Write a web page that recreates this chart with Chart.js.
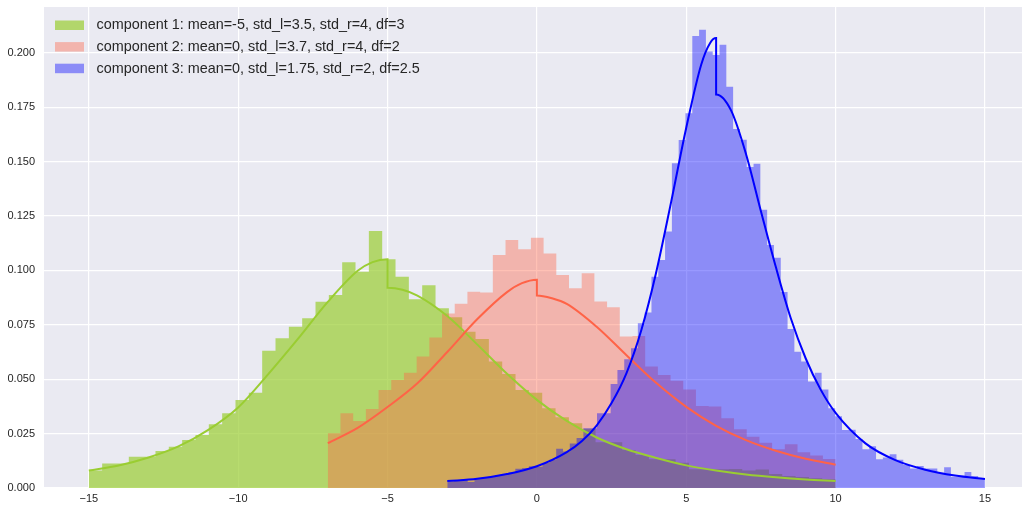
<!DOCTYPE html>
<html>
<head>
<meta charset="utf-8">
<script src="https://cdn.jsdelivr.net/npm/chart.js@4.4.1/dist/chart.umd.min.js"></script>
<style>
  html, body { margin: 0; padding: 0; background: #ffffff; overflow: hidden; }
  canvas { display: block; }
</style>
</head>
<body>
<canvas id="chart" width="1022" height="506"></canvas>
<script>
// ---- data -------------------------------------------------------------
const legendLabels = [
  'component 1: mean=-5, std_l=3.5, std_r=4, df=3',
  'component 2: mean=0, std_l=3.7, std_r=4, df=2',
  'component 3: mean=0, std_l=1.75, std_r=2, df=2.5'
];

// histogram ranges [first edge, last edge] and bin densities
const comp1Range = [-15, 10];
const comp1Density = [
  0.0080, 0.0113, 0.0113, 0.0144, 0.0144, 0.0170, 0.0190, 0.0221, 0.0244, 0.0293,
  0.0343, 0.0404, 0.0438, 0.0631, 0.0688, 0.0741, 0.0780, 0.0856, 0.0887, 0.1037,
  0.0994, 0.1181, 0.1051, 0.0971, 0.0867, 0.0931, 0.0826, 0.0785, 0.0718, 0.0685,
  0.0581, 0.0524, 0.0450, 0.0438, 0.0366, 0.0325, 0.0297, 0.0272, 0.0210, 0.0210,
  0.0175, 0.0152, 0.0132, 0.0132, 0.0116, 0.0086, 0.0086, 0.0086, 0.0087, 0.0080,
  0.0085, 0.0064, 0.0055, 0.0050, 0.0045, 0.0040
];

const comp2Range = [-7, 10];
const comp2Density = [
  0.0251, 0.0343, 0.0308, 0.0363, 0.0450, 0.0496, 0.0530, 0.0604, 0.0692, 0.0802,
  0.0846, 0.0902, 0.0898, 0.1071, 0.1140, 0.1097, 0.1150, 0.1078, 0.0979, 0.0918,
  0.0987, 0.0857, 0.0831, 0.0696, 0.0698, 0.0558, 0.0519, 0.0493, 0.0453, 0.0377,
  0.0374, 0.0320, 0.0270, 0.0236, 0.0208, 0.0178, 0.0201, 0.0164, 0.0149, 0.0133
];

const comp3Range = [-3, 15];
const comp3Density = [
  0.0030, 0.0035, 0.0038, 0.0028, 0.0045, 0.0048, 0.0052, 0.0058, 0.0064, 0.0072,
  0.0088, 0.0092, 0.0100, 0.0098, 0.0115, 0.0130, 0.0180, 0.0168, 0.0205, 0.0230,
  0.0274, 0.0274, 0.0343, 0.0343, 0.0478, 0.0542, 0.0591, 0.0642, 0.0757, 0.0806,
  0.0971, 0.1048, 0.1178, 0.1492, 0.1599, 0.1722, 0.2077, 0.2105, 0.2005, 0.1990,
  0.2036, 0.1844, 0.1650, 0.1600, 0.1475, 0.1490, 0.1278, 0.1117, 0.1058, 0.0900,
  0.0730, 0.0626, 0.0581, 0.0489, 0.0530, 0.0452, 0.0366, 0.0330, 0.0267, 0.0268,
  0.0225, 0.0178, 0.0192, 0.0132, 0.0140, 0.0155, 0.0130, 0.0106, 0.0090, 0.0101,
  0.0090, 0.0090, 0.0070, 0.0095, 0.0052, 0.0052, 0.0074, 0.0055, 0.0044
];

// density curves (the repeated x is the jump at the mode)
const comp1CurveX = [-15, -14, -13, -12, -11, -10, -9, -8, -7, -6, -5.5, -5, -5, -4.5, -4, -3, -2, -1, 0, 1, 2, 3, 4, 5, 6, 7, 8, 9, 10];
const comp1CurveY = [0.0080, 0.0103, 0.0140, 0.0191, 0.0267, 0.0370, 0.0522, 0.0685, 0.0855, 0.0998, 0.1038, 0.1051, 0.0920, 0.0911, 0.0884, 0.0790, 0.0660, 0.0525, 0.0405, 0.0308, 0.0232, 0.0178, 0.0138, 0.0104, 0.0080, 0.0062, 0.0049, 0.0039, 0.0032];

const comp2CurveX = [-7, -6, -5, -4, -3, -2, -1, -0.5, 0, 0, 0.5, 1, 2, 3, 4, 5, 6, 7, 8, 9, 10];
const comp2CurveY = [0.0206, 0.0276, 0.0372, 0.0481, 0.0625, 0.0775, 0.0900, 0.0941, 0.0957, 0.0885, 0.0872, 0.0846, 0.0741, 0.0610, 0.0482, 0.0373, 0.0286, 0.0220, 0.0171, 0.0134, 0.0107];

const comp3CurveX = [-3, -2, -1, 0, 1, 1.5, 2, 2.5, 3, 3.5, 4, 4.5, 5, 5.5, 5.8, 6, 6, 6.5, 7, 7.5, 8, 8.5, 9, 9.5, 10, 11, 12, 13, 14, 15];
const comp3CurveY = [0.0032, 0.0042, 0.0064, 0.0100, 0.0165, 0.0215, 0.0287, 0.0390, 0.0528, 0.0727, 0.0995, 0.1318, 0.1655, 0.1945, 0.2045, 0.2067, 0.1808, 0.1735, 0.1535, 0.1272, 0.1015, 0.0780, 0.0595, 0.0452, 0.0345, 0.0205, 0.0128, 0.0084, 0.0057, 0.0041];

const xTicks = [-15, -10, -5, 0, 5, 10, 15];
const xTickLabels = ['\u221215', '\u221210', '\u22125', '0', '5', '10', '15'];
const yTicks = [0, 0.025, 0.05, 0.075, 0.1, 0.125, 0.15, 0.175, 0.2];
const yTickLabels = ['0.000', '0.025', '0.050', '0.075', '0.100', '0.125', '0.150', '0.175', '0.200'];

// ---- styling ----------------------------------------------------------
const FONT = '"Liberation Sans", Arial, "DejaVu Sans", sans-serif';
const INK = '#262626';
const fills = ['rgba(154,205,50,0.7)', 'rgba(255,99,71,0.4)', 'rgba(0,0,255,0.4)'];
const strokes = ['#9acd32', '#ff6347', '#0000ff'];

// outline of a filled step histogram: each bin holds its height until the next edge
function stepOutline(range, dens) {
  const lo = range[0], hi = range[1];
  const w = (hi - lo) / dens.length;
  const pts = [{ x: lo, y: 0 }];
  dens.forEach((d, i) => pts.push({ x: lo + i * w, y: d }));
  pts.push({ x: hi, y: dens[dens.length - 1] });
  pts.push({ x: hi, y: 0 });
  return pts;
}
function curve(xs, ys) {
  return xs.map((x, i) => ({ x: x, y: ys[i] }));
}

function histSet(range, dens, i) {
  return {
    data: stepOutline(range, dens),
    stepped: 'before',
    fill: 'origin',
    backgroundColor: fills[i],
    borderWidth: 0,
    borderColor: 'rgba(0,0,0,0)',
    pointRadius: 0,
    order: 10 - i
  };
}
function curveSet(xs, ys, i) {
  return {
    data: curve(xs, ys),
    fill: false,
    borderColor: strokes[i],
    borderWidth: 2,
    cubicInterpolationMode: 'monotone',
    pointRadius: 0,
    order: 3 - i
  };
}

const plotBackground = {
  id: 'plotBackground',
  beforeDraw(chart) {
    const a = chart.chartArea, c = chart.ctx;
    c.save();
    c.fillStyle = '#eaeaf2';
    c.fillRect(a.left, a.top, a.right - a.left, a.bottom - a.top);
    c.restore();
  }
};

const cornerLegend = {
  id: 'cornerLegend',
  afterDraw(chart) {
    const a = chart.chartArea, c = chart.ctx;
    c.save();
    c.font = '14.4px ' + FONT;
    c.textBaseline = 'middle';
    c.textAlign = 'left';
    legendLabels.forEach((label, i) => {
      const cy = a.top + 18 + i * 21.6;
      c.fillStyle = fills[i];
      c.fillRect(a.left + 11, cy - 4.5, 29, 9.5);
      c.fillStyle = INK;
      c.fillText(label, a.left + 52.5, cy + 0.5);
    });
    c.restore();
  }
};

new Chart(document.getElementById('chart'), {
  type: 'line',
  data: {
    datasets: [
      histSet(comp1Range, comp1Density, 0),
      histSet(comp2Range, comp2Density, 1),
      histSet(comp3Range, comp3Density, 2),
      curveSet(comp1CurveX, comp1CurveY, 0),
      curveSet(comp2CurveX, comp2CurveY, 1),
      curveSet(comp3CurveX, comp3CurveY, 2)
    ]
  },
  options: {
    responsive: false,
    animation: false,
    devicePixelRatio: 1,
    events: [],
    layout: { padding: { top: 7, right: 0, bottom: 0, left: 0 } },
    plugins: { legend: { display: false }, tooltip: { enabled: false } },
    scales: {
      x: {
        type: 'linear',
        min: -16.5,
        max: 16.24,
        border: { display: false },
        grid: { color: '#ffffff', lineWidth: 1.2, drawTicks: false },
        ticks: {
          padding: 4,
          color: INK,
          font: { family: FONT, size: 11 },
          maxRotation: 0,
          callback: (v) => xTickLabels[xTicks.indexOf(v)]
        },
        afterBuildTicks: (s) => { s.ticks = xTicks.map(v => ({ value: v })); },
        afterFit: (s) => { s.height = 18; s.paddingLeft = 0; s.paddingRight = 0; }
      },
      y: {
        type: 'linear',
        min: 0,
        max: 0.221,
        border: { display: false },
        grid: { color: '#ffffff', lineWidth: 1.2, drawTicks: false },
        ticks: {
          padding: 9,
          color: INK,
          font: { family: FONT, size: 11 },
          callback: (v) => yTickLabels[yTicks.indexOf(v)]
        },
        afterBuildTicks: (s) => { s.ticks = yTicks.map(v => ({ value: v })); },
        afterFit: (s) => { s.width = 44; s.paddingTop = 0; s.paddingBottom = 0; }
      }
    }
  },
  plugins: [plotBackground, cornerLegend]
});
</script>
</body>
</html>
